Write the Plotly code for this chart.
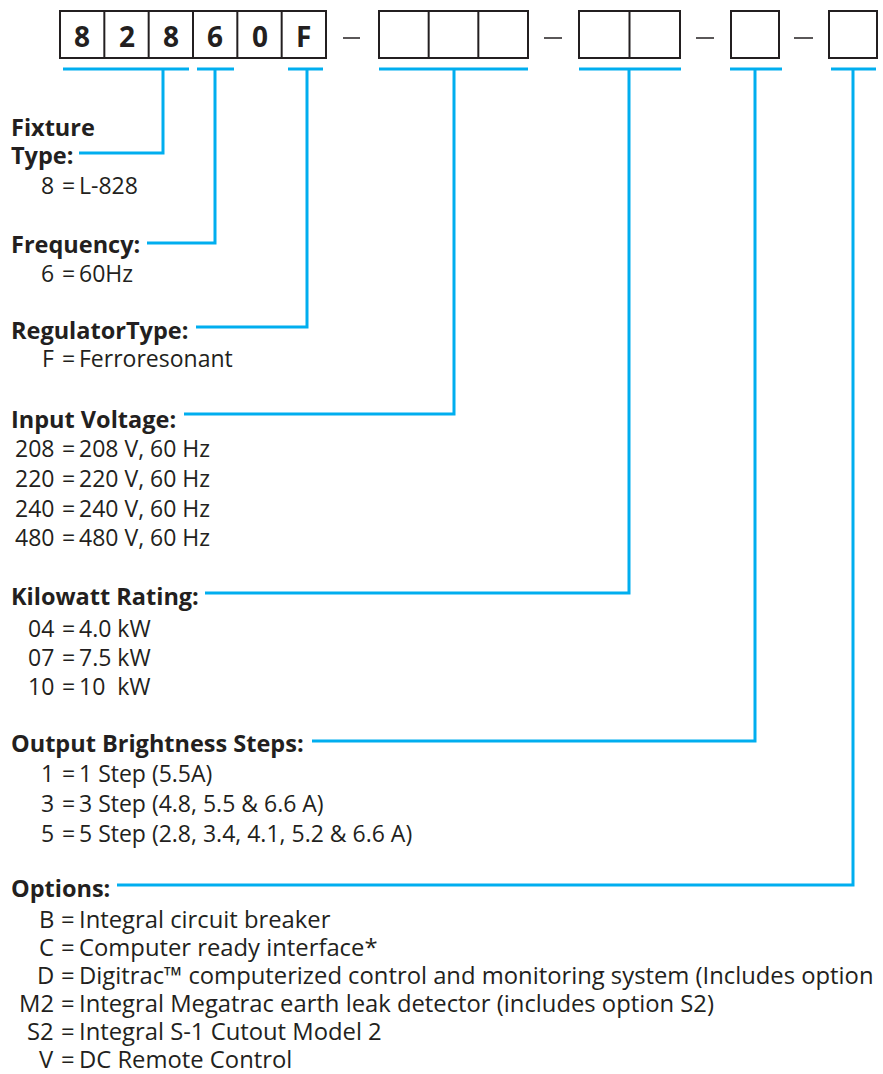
import plotly.graph_objects as go

# ---------------- data ----------------
code_chars = ["8", "2", "8", "6", "0", "F"]
group_cells = [6, 3, 2, 1, 1]

headings = ["Fixture\nType:", "Frequency:", "RegulatorType:", "Input Voltage:",
            "Kilowatt Rating:", "Output Brightness Steps:", "Options:"]

codes_fixture = ["8"]
desc_fixture = ["L-828"]
codes_freq = ["6"]
desc_freq = ["60Hz"]
codes_reg = ["F"]
desc_reg = ["Ferroresonant"]
codes_volt = ["208", "220", "240", "480"]
desc_volt = ["208 V, 60 Hz", "220 V, 60 Hz", "240 V, 60 Hz", "480 V, 60 Hz"]
codes_kw = ["04", "07", "10"]
desc_kw = ["4.0 kW", "7.5 kW", "10\u00a0 kW"]
codes_steps = ["1", "3", "5"]
desc_steps = ["1 Step (5.5A)", "3 Step (4.8, 5.5 & 6.6 A)", "5 Step (2.8, 3.4, 4.1, 5.2 & 6.6 A)"]
codes_opt = ["B", "C", "D", "M2", "S2", "V"]
desc_opt = ["Integral circuit breaker", "Computer ready interface*",
            "Digitrac\u2122 computerized control and monitoring system (Includes option",
            "Integral Megatrac earth leak detector (includes option S2)",
            "Integral S-1 Cutout Model 2", "DC Remote Control"]

section_codes = [codes_fixture, codes_freq, codes_reg, codes_volt, codes_kw, codes_steps, codes_opt]
section_descs = [desc_fixture, desc_freq, desc_reg, desc_volt, desc_kw, desc_steps, desc_opt]

# ---------------- layout geometry (pixels) ----------------
W, H = 883, 1074
BLUE = "#00AEEF"
INK = "#231F20"
FONT = "Open Sans"
BOX_TOP, BOX_BOT = 11, 58
group_x = [(60, 326), (379, 528), (579, 680), (731, 779), (829, 877)]
dash_x = [(343, 360), (544, 562), (696, 714), (794, 813)]
DASH_Y = 38
BRACKET_Y = 69
# bracket: (x_left, x_right, x_drop, y_heading_line, x_heading_end)
brackets = [
    (63, 189, 163, 153, 79),
    (197, 234, 215, 243, 147),
    (288, 323, 307, 327, 196),
    (379, 528, 454, 414, 184),
    (579, 681, 629, 593, 205),
    (730, 782, 755, 741, 312),
    (831, 876, 853, 885, 117),
]
heading_y = [(127, 155), 244, 330, 419, 596, 743, 888]
item_y = [[185], [273], [358], [448, 478, 508, 537], [628, 657, 686],
          [773, 803, 833], [919, 947, 975, 1003, 1031, 1059]]
item_size = [23, 23, 23, 23, 23, 23, 23.8]
CODE_RIGHT = 56
EQ_X = 68
DESC_LEFT = 77
HEAD_X = 9
HEAD_SIZE = 23.5

shapes = []
annotations = []

# code boxes
ci = 0
for gi, ((x0, x1), n) in enumerate(zip(group_x, group_cells)):
    shapes.append(dict(type="rect", x0=x0, x1=x1, y0=BOX_TOP, y1=BOX_BOT,
                       line=dict(color=INK, width=2), xref="x", yref="y"))
    cw = (x1 - x0) / n
    for k in range(n):
        if k > 0:
            xx = x0 + k * cw
            shapes.append(dict(type="line", x0=xx, x1=xx, y0=BOX_TOP, y1=BOX_BOT,
                               line=dict(color=INK, width=2), xref="x", yref="y"))
        if gi == 0 and ci < len(code_chars):
            annotations.append(dict(x=x0 + (k + 0.5) * cw, y=(BOX_TOP + BOX_BOT) / 2 + 1,
                                    text="<b>%s</b>" % code_chars[ci], showarrow=False,
                                    xanchor="center", yanchor="middle",
                                    font=dict(family=FONT, size=28, color=INK)))
            ci += 1

for (x0, x1) in dash_x:
    shapes.append(dict(type="line", x0=x0, x1=x1, y0=DASH_Y, y1=DASH_Y,
                       line=dict(color=INK, width=1.5), xref="x", yref="y"))

# brackets
for (xl, xr, xd, yh, xh) in brackets:
    shapes.append(dict(type="line", x0=xl, x1=xr, y0=BRACKET_Y, y1=BRACKET_Y,
                       line=dict(color=BLUE, width=3), xref="x", yref="y"))
    shapes.append(dict(type="path",
                       path="M %s %s L %s %s L %s %s" % (xd, BRACKET_Y, xd, yh, xh, yh),
                       line=dict(color=BLUE, width=3), xref="x", yref="y"))

# headings
for h, hy in zip(headings, heading_y):
    lines = h.split("\n")
    ys = hy if isinstance(hy, tuple) else (hy,)
    for t, yy in zip(lines, ys):
        annotations.append(dict(x=HEAD_X, y=yy, text="<b>%s</b>" % t, showarrow=False,
                                xanchor="left", yanchor="middle",
                                font=dict(family=FONT, size=HEAD_SIZE, color=INK)))

# items
for codes, descs, ys, fs in zip(section_codes, section_descs, item_y, item_size):
    for c, d, yy in zip(codes, descs, ys):
        annotations.append(dict(x=CODE_RIGHT, y=yy, text=c, showarrow=False,
                                xanchor="right", yanchor="middle",
                                font=dict(family=FONT, size=fs, color=INK)))
        annotations.append(dict(x=EQ_X, y=yy, text="=", showarrow=False,
                                xanchor="center", yanchor="middle",
                                font=dict(family=FONT, size=fs, color=INK)))
        annotations.append(dict(x=DESC_LEFT, y=yy, text=d, showarrow=False,
                                xanchor="left", yanchor="middle",
                                font=dict(family=FONT, size=fs, color=INK)))

fig = go.Figure()
fig.update_layout(
    width=W, height=H,
    margin=dict(l=0, r=0, t=0, b=0),
    paper_bgcolor="white", plot_bgcolor="white",
    xaxis=dict(range=[0, W], visible=False, fixedrange=True),
    yaxis=dict(range=[H, 0], visible=False, fixedrange=True),
    shapes=shapes, annotations=annotations, showlegend=False,
)
fig.write_html("out.html", config={"displayModeBar": False},
               post_script="document.body.style.margin='0';document.body.style.overflow='hidden';")
